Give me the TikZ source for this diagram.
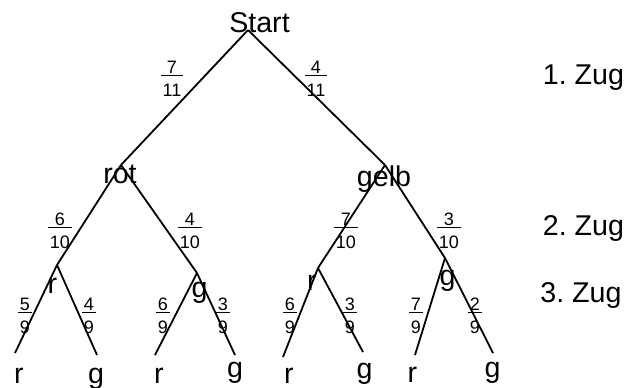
\documentclass[tikz,border=0pt]{standalone}
\usepackage{fontspec}
\setmainfont{Liberation Sans}
\setlength{\arrayrulewidth}{0.5pt}
\newcommand\fr[2]{{\fontsize{9}{10.8}\selectfont\begin{tabular}[t]{@{\hspace{0.8pt}}c@{\hspace{0.8pt}}}#1\\[-2pt]\hline\rule{0pt}{9.8pt}#2\end{tabular}}}
\begin{document}
\begin{tikzpicture}[x=0.5pt,y=-0.5pt,
  edge/.style={line width=0.9pt},
  lbl/.style={anchor=base,inner sep=0pt,font=\fontsize{14.3}{17}\selectfont\frenchspacing},
  frac/.style={anchor=base,inner sep=0pt}]
\useasboundingbox (0,0) rectangle (638,387);
% junctions
\coordinate (S) at (248,30);
\coordinate (A) at (121,165);
\coordinate (B) at (385,165);
\coordinate (A1) at (57,265);
\coordinate (A2) at (197,273);
\coordinate (B1) at (318,268);
\coordinate (B2) at (445,258);
\coordinate (L1) at (15,353);
\coordinate (L2) at (97,355);
\coordinate (L3) at (155,355);
\coordinate (L4) at (235,355);
\coordinate (L5) at (283,357);
\coordinate (L6) at (363,352);
\coordinate (L7) at (415,355);
\coordinate (L8) at (493,353);
% branches
\draw[edge] (S) -- (A);
\draw[edge] (S) -- (B);
\draw[edge] (A) -- (A1);
\draw[edge] (A) -- (A2);
\draw[edge] (B) -- (B1);
\draw[edge] (B) -- (B2);
\draw[edge] (A1) -- (L1);
\draw[edge] (A1) -- (L2);
\draw[edge] (A2) -- (L3);
\draw[edge] (A2) -- (L4);
\draw[edge] (B1) -- (L5);
\draw[edge] (B1) -- (L6);
\draw[edge] (B2) -- (L7);
\draw[edge] (B2) -- (L8);
% labels
\node[lbl] (tS) at (259.5,32.5) {Start};
\node[lbl] (tA) at (120,183) {rot};
\node[lbl] (tB) at (384,186) {gelb};
\node[lbl] (tA1) at (52.5,293) {r};
\node[lbl] (tA2) at (199.5,297) {g};
\node[lbl] (tB1) at (312,290) {r};
\node[lbl] (tB2) at (447.5,285) {g};
\node[lbl] (tL1) at (19,383) {r};
\node[lbl] (tL2) at (96,383) {g};
\node[lbl] (tL3) at (159,383) {r};
\node[lbl] (tL4) at (235,377) {g};
\node[lbl] (tL5) at (289,383) {r};
\node[lbl] (tL6) at (364.5,378) {g};
\node[lbl] (tL7) at (412.5,382) {r};
\node[lbl] (tL8) at (492.5,377) {g};
\node[lbl] (z1) at (583.5,84) {1. Zug};
\node[lbl] (z2) at (583.5,235) {2. Zug};
\node[lbl] (z3) at (581,302) {3. Zug};
% probabilities
\node[frac] (p1) at (172,73) {\fr{7}{11}};
\node[frac] (p2) at (316,73) {\fr{4}{11}};
\node[frac] (p3) at (60,225) {\fr{6}{10}};
\node[frac] (p4) at (190,225) {\fr{4}{10}};
\node[frac] (p5) at (346,225) {\fr{7}{10}};
\node[frac] (p6) at (449,225) {\fr{3}{10}};
\node[frac] (p7) at (25,310) {\fr{5}{9}};
\node[frac] (p8) at (89,310) {\fr{4}{9}};
\node[frac] (p9) at (163,310) {\fr{6}{9}};
\node[frac] (p10) at (223,310) {\fr{3}{9}};
\node[frac] (p11) at (290,310) {\fr{6}{9}};
\node[frac] (p12) at (350,310) {\fr{3}{9}};
\node[frac] (p13) at (416,310) {\fr{7}{9}};
\node[frac] (p14) at (475,310) {\fr{2}{9}};
\end{tikzpicture}
\end{document}
